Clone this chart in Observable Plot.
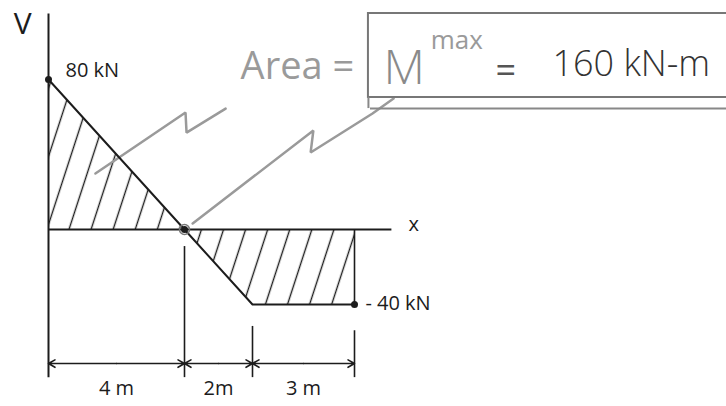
<!DOCTYPE html>
<html>
<head>
<meta charset="utf-8">
<script src="https://cdn.jsdelivr.net/npm/d3@7"></script>
<script src="https://cdn.jsdelivr.net/npm/@observablehq/plot@0.6"></script>
<style>
  html, body { margin: 0; padding: 0; background: #fff; }
  #chart svg { display: block; }
</style>
</head>
<body>
<div id="chart"></div>
<script>
// ---- Shear diagram data ----
const shearX = [0, 4, 6, 9];          // m
const shearV = [80, 0, -40, -40];     // kN
const keyX = [0, 4, 9];
const keyV = [80, 0, -40];
const valueLabels = ["80 kN", "- 40 kN"];
const valueLabelX = [0.5, 9.32];
const valueLabelV = [84.8, -39.5];

// ---- Dimension (span) data ----
const segStart = [0, 4, 6];
const segEnd = [4, 6, 9];
const segLabels = ["4 m", "2m", "3 m"];
const dimV = -71.5;
const dimLabelV = -84.8;
const extX = [4, 6, 9];
const extTop = [-9.1, -51.7, -54];
const extBottom = [-79, -79, -79];

// ---- Axes ----
const axisVTop = 115, axisVBottom = -79;
const axisXEnd = 10.1;
const axisNames = ["V", "x"];
const axisNameX = [-0.76, 10.74];
const axisNameV = [109.3, 2.7];

// ---- Annotation (area = M max) ----
const annText = ["Area =", "M", "max", "=", "160 kN-m"];
const annX = [5.65, 9.85, 11.24, 13.45, 14.82];
const annV = [86.9, 85.9, 100.8, 84.5, 88];
const boxX = [9.41, 20.5];
const boxV = [70.4, 115.2];
const boxLowerV = 64.5;
const zig1X = [1.38, 4.03, 4.06, 5.21];
const zig1V = [29.9, 62.4, 51.7, 64.5];
const zig2X = [4.24, 7.79, 7.71, 9.53, 10.15];
const zig2V = [3.2, 52.8, 41.1, 61.9, 69.9];

const shear = shearX.map((x, i) => ({x, v: shearV[i]}));
const leftArea = shear.slice(0, 2);
const rightArea = shear.slice(1);
const keyPts = keyX.map((x, i) => ({x, v: keyV[i]}));
const vLabels = valueLabels.map((t, i) => ({t, x: valueLabelX[i], v: valueLabelV[i]}));
const segs = segStart.map((s, i) => ({s, e: segEnd[i], m: (s + segEnd[i]) / 2, label: segLabels[i]}));
const exts = extX.map((x, i) => ({x, y1: extTop[i], y2: extBottom[i]}));
const names = axisNames.map((t, i) => ({t, x: axisNameX[i], v: axisNameV[i]}));
const ann = annText.map((t, i) => ({t, x: annX[i], v: annV[i]}));
const zig1 = zig1X.map((x, i) => ({x, v: zig1V[i]}));
const zig2 = zig2X.map((x, i) => ({x, v: zig2V[i]}));

const ink = "#1c1c1c";
const pencil = "#9a9a9a";
const font = "Open Sans, DejaVu Sans, sans-serif";

const annStyles = [
  {fontSize: 38, fill: pencil, fontWeight: 400},
  {fontSize: 48, fill: "#8a8a8a", fontWeight: 300},
  {fontSize: 26, fill: pencil, fontWeight: 400},
  {fontSize: 36, fill: "#555", fontWeight: 400},
  {fontSize: 36, fill: "#333", fontWeight: 300}
];

const plot = Plot.plot({
  width: 726,
  height: 406,
  margin: 0,
  style: {background: "#fff", fontFamily: font},
  x: {domain: [-48 / 34, (726 - 48) / 34], axis: null},
  y: {domain: [(229 - 406) / 1.875, 229 / 1.875], axis: null},
  marks: [
    // hatched areas
    Plot.areaY(leftArea, {x: "x", y: "v", fill: "url(#hatch)"}),
    Plot.areaY(rightArea, {x: "x", y: "v", fill: "url(#hatch)"}),
    // annotation zigzags (pencil)
    Plot.line(zig1, {x: "x", y: "v", stroke: pencil, strokeWidth: 2.5, strokeLinejoin: "miter"}),
    Plot.line(zig2, {x: "x", y: "v", stroke: pencil, strokeWidth: 2.5, strokeLinejoin: "miter"}),
    // box
    Plot.rect([{}], {x1: boxX[0], x2: boxX[1], y1: boxV[0], y2: boxV[1], fill: "none", stroke: "#777", strokeWidth: 2}),
    Plot.ruleY([boxLowerV], {x1: boxX[0] + 0.06, x2: boxX[1], stroke: "#888", strokeWidth: 2}),
    Plot.ruleX([boxX[0]], {y1: boxLowerV, y2: boxV[0], stroke: "#888", strokeWidth: 2}),
    // axes
    Plot.ruleX([0], {y1: axisVBottom, y2: axisVTop, stroke: ink, strokeWidth: 2}),
    Plot.ruleY([0], {x1: 0, x2: axisXEnd, stroke: ink, strokeWidth: 2}),
    // shear line
    Plot.line(shear, {x: "x", y: "v", stroke: ink, strokeWidth: 2}),
    Plot.ruleX([shearX[3]], {y1: 0, y2: shearV[3], stroke: ink, strokeWidth: 1.6}),
    Plot.dot(keyPts, {x: "x", y: "v", r: 3.5, fill: ink}),
    Plot.dot([keyPts[1]], {x: "x", y: "v", r: 5, stroke: "#777", strokeWidth: 1.5}),
    // dimension lines
    Plot.ruleX(exts, {x: "x", y1: "y1", y2: "y2", stroke: ink, strokeWidth: 1.6}),
    Plot.arrow(segs, {x1: "m", x2: "s", y1: dimV, y2: dimV, stroke: ink, strokeWidth: 1.6, headLength: 7}),
    Plot.arrow(segs, {x1: "m", x2: "e", y1: dimV, y2: dimV, stroke: ink, strokeWidth: 1.6, headLength: 7}),
    Plot.text(segs, {x: "m", y: dimLabelV, text: "label", fontSize: 20, fill: ink, fontFamily: font}),
    // labels
    Plot.text(vLabels, {x: "x", y: "v", text: "t", textAnchor: "start", fontSize: 20, fill: ink, fontFamily: font}),
    Plot.text(names, {x: "x", y: "v", text: "t", fontSize: [30, 20], fill: ink, fontFamily: font}),
    ...ann.map((a, i) => Plot.text([a], {x: "x", y: "v", text: "t", textAnchor: i === 3 ? "middle" : "start",
      fontSize: annStyles[i].fontSize, fill: annStyles[i].fill, fontWeight: annStyles[i].fontWeight, fontFamily: font}))
  ]
});

// hatch pattern definition
const ns = "http://www.w3.org/2000/svg";
const defs = document.createElementNS(ns, "defs");
defs.innerHTML = `<pattern id="hatch" patternUnits="userSpaceOnUse" width="21" height="21" patternTransform="rotate(18)">
  <line x1="10.5" y1="0" x2="10.5" y2="21" stroke="${ink}" stroke-width="1.4"/></pattern>`;
plot.insertBefore(defs, plot.firstChild);

document.getElementById("chart").appendChild(plot);
</script>
</body>
</html>
